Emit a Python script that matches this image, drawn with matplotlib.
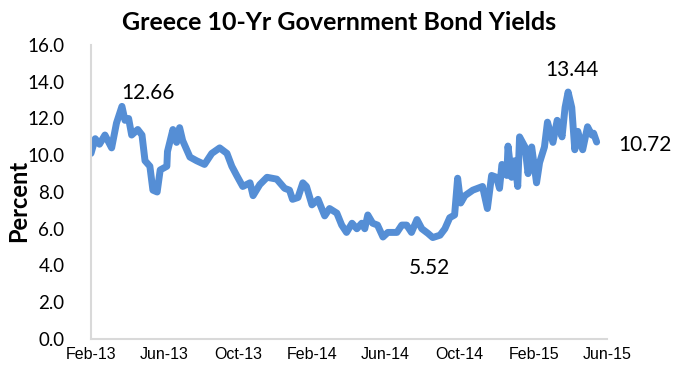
import matplotlib
matplotlib.use("Agg")
import matplotlib.pyplot as plt
import matplotlib.dates as mdates
import pandas as pd

# data
dates = ["2013-02-01", "2013-02-08", "2013-02-15", "2013-02-24", "2013-03-07", "2013-03-15",
         "2013-03-24", "2013-03-29", "2013-04-04", "2013-04-09", "2013-04-19", "2013-04-26",
         "2013-05-01", "2013-05-09", "2013-05-14", "2013-05-21", "2013-05-26", "2013-06-06",
         "2013-06-07", "2013-06-16", "2013-06-22", "2013-06-27", "2013-07-02", "2013-07-14",
         "2013-07-25", "2013-08-07", "2013-08-19", "2013-09-01", "2013-09-13", "2013-09-21",
         "2013-09-29", "2013-10-09", "2013-10-21", "2013-10-26", "2013-11-06", "2013-11-18",
         "2013-12-04", "2013-12-17", "2013-12-25", "2013-12-30", "2014-01-08", "2014-01-16",
         "2014-01-22", "2014-01-31", "2014-02-10", "2014-02-21", "2014-03-01", "2014-03-13",
         "2014-03-21", "2014-03-29", "2014-04-07", "2014-04-15", "2014-04-23", "2014-04-28",
         "2014-05-03", "2014-05-11", "2014-05-19", "2014-05-28", "2014-06-05", "2014-06-20",
         "2014-06-28", "2014-07-06", "2014-07-14", "2014-07-23", "2014-07-31", "2014-08-10",
         "2014-08-18", "2014-08-30", "2014-09-07", "2014-09-15", "2014-09-23", "2014-09-28",
         "2014-10-03", "2014-10-10", "2014-10-23", "2014-11-08", "2014-11-16", "2014-11-23",
         "2014-12-01", "2014-12-06", "2014-12-10", "2014-12-18", "2014-12-20", "2014-12-26",
         "2014-12-31", "2015-01-05", "2015-01-08", "2015-01-17", "2015-01-22", "2015-01-28",
         "2015-02-05", "2015-02-10", "2015-02-18", "2015-02-23", "2015-03-04", "2015-03-11",
         "2015-03-19", "2015-03-24", "2015-03-29", "2015-04-04", "2015-04-09", "2015-04-14",
         "2015-04-22", "2015-04-30", "2015-05-07", "2015-05-10", "2015-05-15"]
yields = [10.1, 10.9, 10.6, 11.1, 10.4, 11.75,
          12.66, 11.9, 12.0, 11.1, 11.4, 11.1,
          9.7, 9.4, 8.1, 8.0, 9.2, 9.4,
          10.2, 11.4, 10.7, 11.5, 10.8, 9.9,
          9.7, 9.5, 10.1, 10.4, 10.1, 9.4,
          8.9, 8.3, 8.5, 7.8, 8.4, 8.8,
          8.7, 8.2, 8.1, 7.6, 7.7, 8.5,
          8.3, 7.3, 7.6, 6.7, 7.1, 6.85,
          6.2, 5.8, 6.3, 6.0, 6.3, 6.0,
          6.75, 6.3, 6.2, 5.55, 5.8, 5.8,
          6.2, 6.2, 5.8, 6.5, 6.0, 5.75,
          5.52, 5.65, 6.0, 6.6, 6.75, 8.75,
          7.4, 7.8, 8.1, 8.3, 7.1, 8.9,
          8.8, 8.2, 9.5, 8.9, 10.5, 8.8,
          9.7, 8.3, 11.0, 10.45, 9.0, 10.45,
          8.5, 9.6, 10.45, 11.8, 10.7, 11.9,
          11.0, 12.6, 13.44, 12.6, 10.3, 11.3,
          10.3, 11.55, 11.1, 11.2, 10.72]

tick_dates = ["2013-02-01", "2013-06-01", "2013-10-01", "2014-02-01",
              "2014-06-01", "2014-10-01", "2015-02-01", "2015-06-01"]

labels = ["12.66", "13.44", "5.52", "10.72"]
label_dates = ["2013-05-06", "2015-04-04", "2014-08-12", "2015-08-02"]
label_vals = [13.4, 14.65, 3.85, 10.55]

x = pd.to_datetime(dates)
ticks = pd.to_datetime(tick_dates)

fig = plt.figure(figsize=(6.75, 3.7), dpi=100)
ax = fig.add_axes([0.1348, 0.0838, 0.7644, 0.7946])

ax.plot(x, yields, color="#558ED5", linewidth=5, solid_joinstyle="round", solid_capstyle="round")

ax.set_xlim(ticks[0], ticks[-1])
ax.set_ylim(0, 16)
ax.set_yticks(range(0, 17, 2))
ax.set_yticklabels(["%.1f" % v for v in range(0, 17, 2)], fontsize=13.5, family=["Lato", "DejaVu Sans"])
ax.set_xticks(ticks)
ax.xaxis.set_major_formatter(mdates.DateFormatter("%b-%y"))
for t in ax.get_xticklabels():
    t.set_family(["Liberation Sans Narrow", "Liberation Sans"])
    t.set_fontsize(11.5)

ax.tick_params(length=0, pad=6)
ax.tick_params(axis="y", pad=19)
for s in ["top", "right"]:
    ax.spines[s].set_visible(False)
for s in ["left", "bottom"]:
    ax.spines[s].set_color("#D9D9D9")
    ax.spines[s].set_linewidth(1.5)

ax.set_ylabel("Percent", fontsize=17, fontweight="bold", family=["Lato", "DejaVu Sans"])
ax.yaxis.label.set_va("center")
ax.yaxis.set_label_coords(-0.141, 0.47)

for lab, d, v in zip(labels, label_dates, label_vals):
    ax.text(pd.Timestamp(d), v, lab, ha="center", va="center", fontsize=15,
            family=["Lato", "DejaVu Sans"], clip_on=False)

fig.text(0.502, 0.94, "Greece 10-Yr Government Bond Yields", ha="center", va="center",
         fontsize=18, fontweight="bold", family=["Lato", "DejaVu Sans"])

fig.savefig("out.png", dpi=100)
